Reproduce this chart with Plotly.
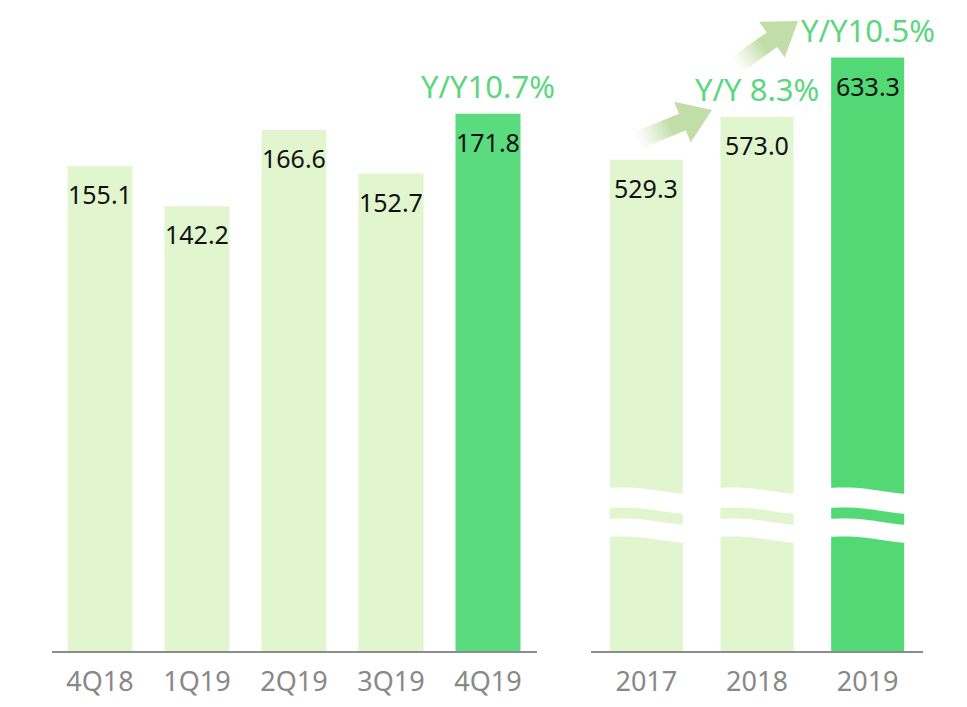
import numpy as np
import plotly.graph_objs as go

# data
quarters = ['4Q18', '1Q19', '2Q19', '3Q19', '4Q19']
q_values = [155.1, 142.2, 166.6, 152.7, 171.8]
q_growth = ['', '', '', '', 'Y/Y10.7%']

years = ['2017', '2018', '2019']
y_values = [529.3, 573.0, 633.3]
y_growth = ['', 'Y/Y 8.3%', 'Y/Y10.5%']

# page body has an 8px margin, so the figure is a bit smaller than the window
OFF = 8
W, H = 967 - 2 * OFF, 707 - 2 * OFF
LIGHT = '#e1f6cf'
DARK_Q = '#5adb7e'
DARK_Y = '#52d975'
ARROW = '#c2dea8'
GREEN_TXT = '#5cd67f'
FONT = 'Noto Sans'

# screen-pixel layout of the two panels
top_px, base_px = 10, 651
lx0, lx1 = 51.5, 536.5
rx0, rx1 = 591, 923
left_scale = 3.127      # px per unit
right_scale = 0.9827
right_floor = 29.4      # broken axis starts here


def pp(px, py):
    return (px - OFF) / W, 1 - (py - OFF) / H


ydom = [pp(0, base_px)[1], pp(0, top_px)[1]]

fig = go.Figure()
fig.add_trace(go.Bar(
    x=quarters, y=q_values, xaxis='x', yaxis='y', width=0.67,
    marker=dict(color=[LIGHT] * 4 + [DARK_Q], line_width=0),
    hoverinfo='x+y'))
fig.add_trace(go.Bar(
    x=years, y=y_values, xaxis='x2', yaxis='y2', width=0.66,
    marker=dict(color=[LIGHT] * 2 + [DARK_Y], line_width=0),
    hoverinfo='x+y'))

annotations = []
for ax_x, ax_y, cats, vals, growth in [('x', 'y', quarters, q_values, q_growth),
                                       ('x2', 'y2', years, y_values, y_growth)]:
    for i, (v, g) in enumerate(zip(vals, growth)):
        annotations.append(dict(
            x=i, y=v, xref=ax_x, yref=ax_y, text=f'{v:.1f}', showarrow=False,
            yshift=-28, font=dict(family=FONT, size=25, color='#111111')))
        if g:
            annotations.append(dict(
                x=i, y=v, xref=ax_x, yref=ax_y, text=g, showarrow=False,
                yshift=28, font=dict(family=FONT, size=31, color=GREEN_TXT)))

shapes = []

# wavy axis-break bands on the annual bars
pitch = (rx1 - rx0) / len(years)
t = np.linspace(0, 1, 30)
for i in range(len(years)):
    c = rx0 + (i + 0.5) * pitch
    hw = 0.33 * pitch + 2
    xs = c - hw + 2 * hw * t
    wave = 6 * (0.5 - 0.5 * np.cos(np.pi * t)) - 2 * np.sin(np.pi * t)
    for y0, thick in [(488, 20), (519, 18)]:
        top = y0 + wave
        bot = top + thick
        pts = [pp(x, y) for x, y in zip(xs, top)] + \
              [pp(x, y) for x, y in zip(xs[::-1], bot[::-1])]
        path = 'M ' + ' L '.join(f'{a:.5f},{b:.5f}' for a, b in pts) + ' Z'
        shapes.append(dict(type='path', xref='paper', yref='paper', path=path,
                           fillcolor='white', line=dict(width=0), layer='above'))


def mix(c1, c2, f):
    a = [int(c1[k:k + 2], 16) for k in (1, 3, 5)]
    b = [int(c2[k:k + 2], 16) for k in (1, 3, 5)]
    return '#' + ''.join(f'{int(round(p + (q - p) * f)):02x}' for p, q in zip(a, b))


def arrow(tail, tip, head_len=32, head_hw=22, shaft_hw=9, n=14):
    tail, tip = np.array(tail, float), np.array(tip, float)
    u = (tip - tail) / np.linalg.norm(tip - tail)
    nrm = np.array([-u[1], u[0]])
    base = tip - u * head_len
    out = []
    for k in range(n):
        p0 = tail + (base - tail) * k / n
        p1 = tail + (base - tail) * (k + 1.15) / n
        f = min(1.0, ((k + 0.5) / n) / 0.75) ** 1.3
        quad = [p0 + nrm * shaft_hw, p1 + nrm * shaft_hw,
                p1 - nrm * shaft_hw, p0 - nrm * shaft_hw]
        path = 'M ' + ' L '.join('{:.5f},{:.5f}'.format(*pp(*q)) for q in quad) + ' Z'
        out.append(dict(type='path', xref='paper', yref='paper', path=path,
                        fillcolor=mix('#ffffff', ARROW, f), line=dict(width=0)))
    head = [tip, base + nrm * head_hw, base - nrm * head_hw]
    path = 'M ' + ' L '.join('{:.5f},{:.5f}'.format(*pp(*q)) for q in head) + ' Z'
    out.append(dict(type='path', xref='paper', yref='paper', path=path,
                    fillcolor=ARROW, line=dict(width=0)))
    return out


shapes += arrow((636, 141), (712, 110))
shapes += arrow((735, 66), (798, 21))

axis_common = dict(type='category', showgrid=False, zeroline=False, showline=True,
                   linecolor='#8c8c8c', linewidth=2, ticks='',
                   tickfont=dict(family=FONT, size=27, color='#888888'),
                   ticklabelstandoff=6, fixedrange=True, automargin=False)

fig.update_layout(
    template='none',
    width=W, height=H,
    margin=dict(l=0, r=0, t=0, b=0, pad=0),
    paper_bgcolor='white', plot_bgcolor='white',
    showlegend=False,
    xaxis=dict(domain=[pp(lx0, 0)[0], pp(lx1, 0)[0]], anchor='y',
               range=[-0.5, len(quarters) - 0.5], **axis_common),
    yaxis=dict(domain=ydom, range=[0, (base_px - top_px) / left_scale],
               visible=False, anchor='x', automargin=False, fixedrange=True),
    xaxis2=dict(domain=[pp(rx0, 0)[0], pp(rx1, 0)[0]], anchor='y2',
                range=[-0.5, len(years) - 0.5], **axis_common),
    yaxis2=dict(domain=ydom,
                range=[right_floor, right_floor + (base_px - top_px) / right_scale],
                visible=False, anchor='x2', automargin=False, fixedrange=True),
    annotations=annotations,
    shapes=shapes,
)

fig.write_html('out.html')
